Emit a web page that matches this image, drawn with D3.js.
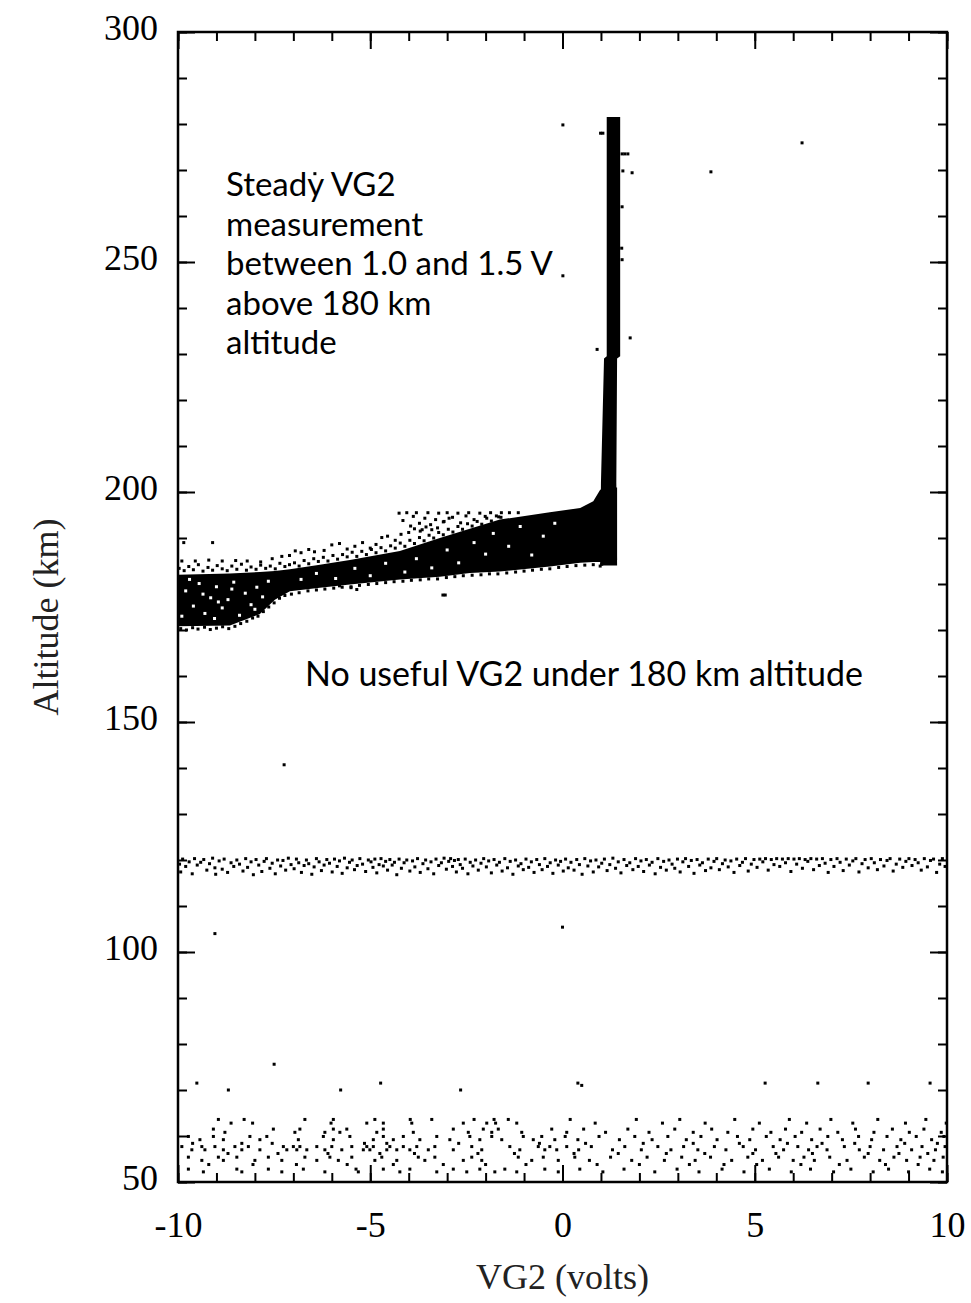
<!DOCTYPE html>
<html>
<head>
<meta charset="utf-8">
<script src="https://cdn.jsdelivr.net/npm/d3@7"></script>
<style>
  body { margin: 0; background: #fff; }
  svg { display: block; }
</style>
</head>
<body>
<svg id="chart" width="971" height="1303"></svg>
<script>
// ---- axis ticks ----
const xMajorTicks = [-10, -5, 0, 5, 10];
const xMinorTicks = d3.range(-10, 10.01, 1);
const yMajorTicks = [50, 100, 150, 200, 250, 300];
const yMinorTicks = d3.range(50, 300.01, 10);

// ---- dense core of the 170-200 km cluster (volts, lower / upper altitude) ----
const coreV  = [-10, -8.65, -7.87, -7.48, -7.09, -6.31, -5.53, -4.23, -3.19, -2.41, -1.63, -0.33, 0.46, 0.8, 0.98, 1.2, 1.42];
const coreLo = [170.8, 171.0, 173.5, 176.6, 178.4, 179.2, 179.9, 181.0, 181.6, 182.4, 182.7, 183.8, 184.6, 184.8, 184.8, 184.8, 185.2];
const coreHi = [182.0, 182.3, 182.6, 182.8, 183.2, 184.2, 185.2, 187.2, 190.0, 192.0, 194.0, 195.6, 196.5, 198.0, 200.5, 201, 201];

// ---- steady column above 185 km (altitude, left / right volts) ----
const towerAlt = [184, 202, 229, 229.5, 281.5];
const towerL   = [0.98, 1.0, 1.08, 1.15, 1.15];
const towerR   = [1.42, 1.40, 1.42, 1.50, 1.50];

// ---- samples on the fringes of the cluster [volts, km] ----
const clusterUpper = [
  [-9.97,183.4],[-9.84,182.9],[-9.72,183.8],[-9.60,183.1],[-9.47,184.2],[-9.35,182.8],[-9.22,183.6],[-9.10,183.0],
  [-8.98,184.0],[-8.85,183.3],[-8.72,182.9],[-8.60,183.9],[-8.47,183.2],[-8.35,184.3],[-8.22,183.0],[-8.10,183.7],
  [-7.97,183.2],[-7.85,184.1],[-7.72,183.4],[-7.60,183.9],[-7.47,183.3],[-7.35,184.5],[-7.22,183.8],[-7.10,184.2],
  [-6.97,184.6],[-6.85,183.9],[-6.72,185.1],[-6.60,184.4],[-6.47,185.5],[-6.35,184.9],[-6.22,185.8],[-6.10,185.0],
  [-5.97,186.2],[-5.85,185.4],[-5.72,186.4],[-5.60,185.9],[-5.47,186.9],[-5.35,186.0],[-5.22,187.1],[-5.10,186.4],
  [-4.97,187.5],[-4.85,186.8],[-4.72,187.9],[-4.60,187.2],[-4.47,188.3],[-4.35,187.8],
  [-4.22,188.9],[-4.10,188.2],[-3.97,189.5],[-3.85,188.8],[-3.72,190.1],[-3.60,189.4],[-3.47,190.6],[-3.35,190.0],
  [-3.22,191.2],[-3.10,190.7],[-2.97,191.9],[-2.85,191.3],[-2.72,192.5],[-2.60,191.9],[-2.47,193.1],[-2.35,192.6],
  [-2.22,193.6],[-2.10,193.0],[-1.97,194.3],[-1.85,193.7],[-1.72,194.8],[-1.60,194.5]
];
const clusterLower = [
  [-9.93,170.3],[-9.78,170.0],[-9.62,170.5],[-9.48,170.2],[-9.31,170.6],[-9.16,170.1],[-9.00,170.4],[-8.84,170.7],
  [-8.68,170.3],[-8.52,170.8],[-8.37,171.4],[-8.21,171.9],[-8.06,172.6],[-7.92,173.0],[-7.78,174.0],[-7.64,175.0],
  [-7.50,175.9],[-7.36,176.9],[-7.22,177.5],[-7.05,177.8],[-6.85,178.1],[-6.62,178.5],[-6.40,178.7],[-6.18,178.9],
  [-5.95,179.1],[-5.73,179.3],[-5.50,179.4],[-5.28,179.7],[-5.05,179.9],[-4.83,180.1],[-4.60,180.3],[-4.38,180.5],
  [-4.15,180.6],[-3.93,180.8],[-3.70,180.9],[-3.48,181.1],[-3.25,181.1],[-3.02,181.4],[-2.80,181.6],[-2.58,181.8],
  [-2.35,181.9],[-2.12,182.0],[-1.90,182.2],[-1.68,182.2],[-1.45,182.4],[-1.22,182.6],[-1.00,182.8],[-0.78,183.0],
  [-0.55,183.2],[-0.33,183.3],[-0.10,183.6],[0.12,183.8],[0.35,184.0],[0.58,184.1],[0.80,184.2],[0.98,183.9],[1.02,184.3]
];
const clusterSparse = [
  [-9.85,189],[-9.10,189],[-9.90,185],[-9.55,185],[-9.20,185.2],[-8.85,185],[-8.50,185.1],[-8.20,185],
  [-7.85,184.8],[-7.55,185.5],[-7.30,186],[-7.10,186.2],[-6.95,187.2],[-6.80,186.8],[-6.60,187.5],
  [-6.45,187.0],[-6.20,187.3],[-6.00,188.5],[-5.80,188.8],[-5.60,187.6],[-5.40,188.2],[-5.20,189.0],
  [-5.00,187.8],[-4.85,188.6],[-4.70,190.1],[-4.55,190.4],[-4.35,189.5],[-4.20,190.8],[-4.00,191.2],
  [-3.85,192.0],[-3.70,191.5],[-3.55,192.4],[-3.40,191.8],[-3.25,192.2],[-3.10,193.5],[-2.95,194.3],
  [-4.25,195.4],[-4.15,193.8],[-4.05,195.5],[-3.95,192.6],[-3.88,194.7],[-3.80,195.5],[-3.72,193.2],
  [-3.65,191.8],[-3.58,194.3],[-3.50,195.5],[-3.43,192.9],[-3.30,194.0],[-3.22,195.4],
  [-3.08,193.6],[-3.00,195.5],[-2.86,194.5],[-2.72,195.4],
  [-2.65,193.3],[-2.51,194.8],[-2.44,195.5],[-2.30,194.0],
  [-2.15,195.4],[-2.01,194.7],[-1.87,195.5],[-1.66,194.6],[-1.59,195.5],[-1.38,195.5],[-1.15,195.5],
  [-6.20,180.6],[-6.00,180.2],[-5.80,179.6],[-5.50,179.2],[-5.35,178.8],[-3.11,177.6],[-3.05,177.6]
];
// gaps between samples inside the dense core
const clusterGaps = [
  [-9.8,178.5],[-9.6,175.2],[-9.45,180.1],[-9.3,173.6],[-9.15,177.0],[-9.0,179.4],[-8.85,174.8],[-8.7,176.6],
  [-8.55,180.4],[-8.4,173.2],[-8.25,178.0],[-8.1,175.5],[-7.95,179.3],[-7.8,177.2],[-7.65,180.6],[-9.9,173.0],
  [-9.7,181.0],[-9.05,172.5],[-8.6,178.9],[-8.0,174.5],[-9.35,177.8],[-8.95,176.1],
  [-6.8,181.0],[-6.4,182.3],[-5.9,181.2],[-5.4,183.4],[-5.0,181.8],[-4.6,184.5],[-4.1,182.6],[-3.8,185.5],
  [-3.4,183.5],[-3.0,187.4],[-2.7,184.6],[-2.3,189.0],[-2.0,186.5],[-1.8,191.0],[-1.4,188.2],[-1.1,192.5],
  [-0.8,186.3],[-0.5,190.4],[-0.2,193.2]
];

// ---- isolated samples and bumps along the column [volts, km] ----
const isolated = [
  [0.01,279.8],[0.01,247.0],[0.90,231.0],[1.76,233.5],[1.57,269.8],[1.81,269.4],[3.86,269.6],[6.23,275.9],
  [0.99,278.0],[1.05,278.0],[1.55,273.5],[1.62,273.5],[1.70,273.5],[1.55,262.0],[1.54,253.0],[1.55,250.5],
  [-6.44,269.2],[-7.24,140.7],[-9.04,104.0],[0.00,105.4],
  [-9.51,71.5],[-8.69,70.0],[-7.50,75.6],[-5.77,70.0],[-4.73,71.5],[-2.65,70.0],[0.40,71.5],[0.50,71.0],
  [5.27,71.5],[6.64,71.5],[7.95,71.5],[9.56,71.5]
];

// ---- samples of the ~118 km layer [volts, km] ----
const layer118 = [
  [-9.96,119.1],[-9.93,117.4],[-9.88,120.2],[-9.80,118.6],[-9.71,119.6],[-9.63,117.0],[-9.57,120.3],[-9.50,118.9],
  [-9.41,119.5],[-9.33,120.1],[-9.25,117.8],[-9.18,119.2],[-9.10,120.4],[-9.04,118.3],[-9.02,116.9],
  [-8.93,119.8],[-8.85,118.0],[-8.80,120.2],[-8.71,117.3],[-8.62,119.4],[-8.55,118.6],[-8.47,120.0],[-8.40,119.1],
  [-8.31,117.6],[-8.24,120.3],[-8.19,118.4],[-8.10,119.6],[-8.04,116.8],
  [-7.97,120.1],[-7.90,118.9],[-7.82,117.5],[-7.76,119.7],[-7.70,120.3],[-7.61,118.2],[-7.55,119.3],[-7.47,117.0],
  [-7.41,120.0],[-7.33,118.7],[-7.27,119.9],[-7.20,117.8],[-7.13,120.4],[-7.06,119.0],
  [-6.98,118.1],[-6.92,120.2],[-6.86,119.4],[-6.79,117.3],[-6.72,118.8],[-6.66,120.0],[-6.60,119.2],[-6.52,116.9],
  [-6.46,118.5],[-6.40,120.3],[-6.33,119.6],[-6.27,117.7],[-6.20,118.9],[-6.13,120.1],[-6.06,119.3],
  [-5.99,117.4],[-5.93,120.2],[-5.86,118.6],[-5.80,119.8],[-5.73,117.1],[-5.67,120.4],[-5.60,118.3],[-5.54,119.5],
  [-5.47,120.0],[-5.41,117.9],[-5.34,118.8],[-5.27,120.3],[-5.20,119.1],[-5.12,117.5],[-5.05,120.0],
  [-4.98,119.6],[-4.93,118.4],[-4.88,120.2],[-4.83,117.2],[-4.77,119.0],[-4.72,120.3],[-4.66,118.7],[-4.60,119.7],
  [-4.55,117.8],[-4.49,120.1],[-4.43,118.9],[-4.37,119.5],[-4.31,116.8],[-4.25,120.2],[-4.19,118.2],[-4.12,119.4],[-4.05,120.0],
  [-3.97,117.6],[-3.90,119.8],[-3.84,118.5],[-3.77,120.3],[-3.70,117.3],[-3.63,119.2],[-3.56,120.0],[-3.50,118.1],
  [-3.42,119.6],[-3.35,117.0],[-3.29,120.2],[-3.22,118.8],[-3.15,119.4],[-3.08,120.4],[-3.02,118.0],
  [-2.96,119.7],[-2.91,120.3],[-2.86,118.6],[-2.81,119.9],[-2.76,117.4],[-2.71,120.1],[-2.66,119.0],[-2.60,118.2],
  [-2.53,120.2],[-2.46,117.0],[-2.40,119.5],[-2.33,118.7],[-2.26,120.0],[-2.19,117.8],[-2.12,119.3],[-2.05,120.3],
  [-1.98,118.5],[-1.92,119.8],[-1.85,117.2],[-1.78,120.1],[-1.71,118.9],[-1.64,119.5],[-1.57,117.6],[-1.50,120.3],
  [-1.43,118.3],[-1.36,119.7],[-1.29,116.9],[-1.22,120.0],[-1.15,118.7],[-1.08,119.2],[-1.02,117.9],
  [-0.95,120.2],[-0.88,118.4],[-0.81,119.6],[-0.74,117.3],[-0.67,120.1],[-0.60,119.0],[-0.53,117.9],[-0.46,120.3],
  [-0.39,118.6],[-0.32,119.4],[-0.25,117.1],[-0.18,120.0],[-0.11,118.9],[-0.05,119.7],[0.02,117.6],
  [0.08,120.2],[0.15,118.3],[0.22,119.5],[0.30,117.8],[0.37,120.1],[0.44,119.0],[0.51,116.9],[0.58,120.3],
  [0.66,118.7],[0.73,119.8],[0.80,117.4],[0.87,120.0],[0.94,118.5],
  [1.02,119.3],[1.09,120.2],[1.16,117.7],[1.23,119.0],[1.31,120.4],[1.38,118.2],[1.45,119.6],[1.52,117.2],
  [1.60,120.1],[1.67,118.8],[1.75,119.4],[1.83,117.9],[1.90,120.3],[1.97,118.6],
  [2.04,119.8],[2.11,117.5],[2.18,120.1],[2.26,118.9],[2.33,119.5],[2.41,117.0],[2.48,120.3],[2.55,118.4],
  [2.63,119.7],[2.70,117.8],[2.77,120.0],[2.85,119.1],[2.92,118.2],[2.99,120.2],
  [3.06,117.4],[3.13,119.6],[3.20,120.3],[3.28,118.6],[3.35,119.9],[3.42,117.1],[3.50,120.1],[3.57,118.9],
  [3.64,119.4],[3.72,117.7],[3.79,120.2],[3.86,118.3],[3.94,119.7],
  [4.01,120.3],[4.08,117.9],[4.16,119.2],[4.23,120.0],[4.31,118.5],[4.38,119.8],[4.46,117.3],[4.53,120.2],
  [4.61,118.8],[4.68,119.5],[4.76,120.3],[4.83,117.6],[4.91,119.1],[4.98,120.1],
  [5.06,118.4],[5.13,120.2],[5.21,119.6],[5.28,120.3],[5.35,117.8],[5.43,120.1],[5.50,119.0],[5.57,120.3],
  [5.65,118.6],[5.72,120.2],[5.80,119.4],[5.87,120.3],[5.94,117.5],
  [6.02,120.2],[6.09,119.1],[6.16,120.3],[6.24,118.2],[6.31,120.1],[6.38,119.7],[6.46,120.3],[6.53,117.9],
  [6.61,120.2],[6.68,118.8],[6.76,120.3],[6.83,119.3],[6.91,117.3],[6.98,120.1],
  [7.06,118.6],[7.14,120.3],[7.22,119.5],[7.30,117.7],[7.38,120.2],[7.46,118.9],[7.55,119.8],[7.63,120.3],
  [7.71,117.4],[7.79,119.2],[7.87,120.1],[7.95,118.3],
  [8.03,120.3],[8.11,119.4],[8.19,117.9],[8.27,120.1],[8.36,118.7],[8.44,119.9],[8.52,120.3],[8.60,117.6],
  [8.68,119.1],[8.77,120.2],[8.85,118.4],[8.93,119.7],
  [9.01,120.3],[9.09,118.8],[9.17,120.1],[9.25,119.4],[9.33,117.8],[9.41,120.3],[9.49,118.5],[9.57,119.9],
  [9.65,120.2],[9.73,117.3],[9.81,119.1],[9.88,120.3],[9.95,118.6]
];

// ---- samples of the 50-64 km layer, one list of volts per altitude level ----
const lowLevels = [63.6, 62.8, 61.5, 60.8, 59.9, 59.2, 58.4, 57.7, 57.0, 56.2, 55.4, 54.7, 53.8, 52.8, 52.2];
const low636 = [-8.95,-8.28,-6.70,-5.96,-4.88,-3.96,-3.40,-2.30,-1.78,-1.41,0.20,1.92,3.05,4.48,5.90,6.98,8.20,9.45];
const low628 = [-8.62,-8.06,-6.02,-5.09,-4.66,-3.92,-2.58,-1.97,-1.74,-1.19,0.85,2.60,3.71,5.12,6.35,7.55,8.92,9.98];
const low615 = [-9.08,-7.52,-6.83,-5.96,-5.61,-4.66,-2.84,-2.06,-1.67,-0.28,0.55,1.70,2.92,3.88,4.95,5.80,6.70,7.62,8.58,9.40];
const low608 = [-8.78,-6.96,-6.18,-5.79,-4.83,-3.88,-2.45,-1.84,-1.06,0.11,1.12,2.25,3.40,4.30,5.42,6.22,7.16,8.10,9.02,9.85];
const low599 = [-9.73,-9.08,-8.13,-7.69,-6.22,-5.53,-4.66,-4.14,-3.27,-2.41,-1.84,-1.02,-0.54,0.07,0.95,1.88,2.74,3.60,4.55,
  5.30,6.05,6.90,7.70,8.44,9.20,9.92];
const low592 = [-9.43,-8.82,-7.87,-6.87,-5.96,-4.92,-4.40,-3.71,-2.93,-2.15,-1.58,-0.76,-0.20,0.40,1.48,2.33,3.22,4.02,4.87,
  5.66,6.48,7.28,8.04,8.80,9.60];
const low584 = [-9.62,-8.34,-7.55,-5.15,-4.57,-2.70,-0.60,0.60,2.10,3.40,4.60,5.85,6.75,7.60,8.90,9.75];
const low577 = [-9.90,-9.38,-9.04,-8.52,-8.17,-7.26,-7.00,-6.83,-6.39,-6.00,-5.48,-5.09,-4.92,-4.49,-4.14,-3.79,-3.32,-2.36,
  -1.37,-0.63,-0.33,0.11,0.75,1.62,2.48,3.15,3.95,4.70,5.48,6.12,6.62,7.33,8.00,8.70,9.35,9.95];
const low570 = [-9.64,-9.30,-8.82,-8.34,-7.87,-7.17,-6.91,-6.65,-6.18,-5.74,-5.18,-5.01,-4.57,-4.31,-3.97,-3.49,-2.84,-2.10,
  -1.11,-0.46,-0.15,0.42,1.30,2.05,2.82,3.52,4.25,5.02,5.75,6.40,6.88,7.72,8.35,9.08,9.70];
const low562 = [-8.70,-7.40,-6.10,-4.75,-3.85,-2.20,-1.25,0.30,1.45,2.70,3.70,4.95,5.55,6.50,7.95,8.75,9.50];
const low554 = [-9.73,-8.95,-8.47,-7.65,-6.70,-6.05,-5.48,-4.70,-3.75,-3.32,-2.36,-1.15,-0.50,0.32,1.25,2.20,3.10,3.85,4.82,
  5.62,6.28,6.95,7.85,8.62,9.30,9.90];
const low547 = [-9.38,-8.82,-8.00,-7.30,-6.39,-5.83,-4.88,-4.31,-3.58,-2.58,-2.10,-0.80,-0.11,0.70,1.80,2.65,3.45,4.40,5.20,
  6.00,6.55,7.40,8.25,8.95,9.66];
const low538 = [-9.20,-8.05,-6.92,-5.60,-4.40,-3.10,-2.00,-0.95,0.90,2.00,3.30,4.20,5.05,6.20,7.20,8.40,9.25];
const low528 = [-9.73,-8.47,-7.65,-6.74,-5.37,-4.66,-3.97,-2.84,-2.15,-1.50,-0.46,0.45,1.60,2.98,4.15,5.38,6.45,7.50,8.48,9.55];
const low522 = [-9.34,-8.34,-7.30,-6.18,-5.31,-4.23,-3.27,-2.49,-1.76,-1.19,-0.11,1.05,2.40,3.55,4.72,5.95,7.05,8.08,9.00,9.88];
const lowRows = [low636, low628, low615, low608, low599, low592, low584, low577, low570, low562, low554, low547, low538, low528, low522];

// ---- layout and scales ----
const svg = d3.select("#chart");
const plot = { left: 178, top: 32, right: 947, bottom: 1182 };
const x = d3.scaleLinear().domain([-10, 10]).range([plot.left, plot.right]);
const y = d3.scaleLinear().domain([50, 300]).range([plot.bottom, plot.top]);

const serif = "'Liberation Serif', 'Times New Roman', serif";
const sans = "Lato, 'Open Sans', sans-serif";
const dot = 3;

function drawDots(points, color) {
  svg.append("g")
    .selectAll("rect")
    .data(points)
    .join("rect")
    .attr("x", d => x(d[0]) - dot / 2)
    .attr("y", d => y(d[1]) - dot / 2)
    .attr("width", dot)
    .attr("height", dot)
    .attr("fill", color);
}

// ---- dense regions ----
const coreData = coreV.map((v, i) => ({ v, lo: coreLo[i], hi: coreHi[i] }));
svg.append("path")
  .datum(coreData)
  .attr("fill", "#000")
  .attr("d", d3.area().x(d => x(d.v)).y0(d => y(d.lo)).y1(d => y(d.hi)));

const towerData = towerAlt.map((a, i) => ({ a, l: towerL[i], r: towerR[i] }));
svg.append("path")
  .datum(towerData)
  .attr("fill", "#000")
  .attr("d", d3.area().y(d => y(d.a)).x0(d => x(d.l)).x1(d => x(d.r)));

drawDots(clusterGaps, "#fff");

// ---- individual samples ----
const lowPoints = [];
lowRows.forEach((row, i) => row.forEach(v => lowPoints.push([v, lowLevels[i]])));
drawDots([].concat(clusterUpper, clusterLower, clusterSparse, isolated, layer118, lowPoints), "#000");

// ---- axes: inward ticks on all four sides ----
function styleAxis(g) {
  g.select(".domain").remove();
  g.selectAll(".tick line").attr("stroke", "#000").attr("stroke-width", 2);
}
const minorLen = 9, majorLen = 17;

svg.append("g").attr("transform", `translate(0,${plot.bottom})`)
  .call(d3.axisBottom(x).tickValues(xMinorTicks).tickSize(-minorLen).tickFormat(""))
  .call(styleAxis);
svg.append("g").attr("transform", `translate(0,${plot.top})`)
  .call(d3.axisTop(x).tickValues(xMinorTicks).tickSize(-minorLen).tickFormat(""))
  .call(styleAxis);
svg.append("g").attr("transform", `translate(0,${plot.bottom})`)
  .call(d3.axisBottom(x).tickValues(xMajorTicks).tickSize(-majorLen).tickFormat(d3.format("d")))
  .call(styleAxis)
  .call(g => g.selectAll(".tick text")
    .attr("y", 55).attr("dy", null)
    .attr("font-family", serif).attr("font-size", 36).attr("fill", "#000")
    .text(d => d < 0 ? "-" + Math.abs(d) : d));
svg.append("g").attr("transform", `translate(0,${plot.top})`)
  .call(d3.axisTop(x).tickValues(xMajorTicks).tickSize(-majorLen).tickFormat(""))
  .call(styleAxis);

svg.append("g").attr("transform", `translate(${plot.left},0)`)
  .call(d3.axisLeft(y).tickValues(yMinorTicks).tickSize(-minorLen).tickFormat(""))
  .call(styleAxis);
svg.append("g").attr("transform", `translate(${plot.right},0)`)
  .call(d3.axisRight(y).tickValues(yMinorTicks).tickSize(-minorLen).tickFormat(""))
  .call(styleAxis);
svg.append("g").attr("transform", `translate(${plot.left},0)`)
  .call(d3.axisLeft(y).tickValues(yMajorTicks).tickSize(-majorLen).tickFormat(d3.format("d")))
  .call(styleAxis)
  .call(g => g.selectAll(".tick text")
    .attr("x", -20).attr("dy", "0.2em")
    .attr("font-family", serif).attr("font-size", 36).attr("fill", "#000"));
svg.append("g").attr("transform", `translate(${plot.right},0)`)
  .call(d3.axisRight(y).tickValues(yMajorTicks).tickSize(-majorLen).tickFormat(""))
  .call(styleAxis);

// ---- frame ----
svg.append("rect")
  .attr("x", plot.left).attr("y", plot.top)
  .attr("width", plot.right - plot.left).attr("height", plot.bottom - plot.top)
  .attr("fill", "none").attr("stroke", "#000").attr("stroke-width", 2.5);

// ---- axis titles ----
svg.append("text")
  .attr("x", x(0)).attr("y", 1289)
  .attr("text-anchor", "middle")
  .attr("font-family", serif).attr("font-size", 36).attr("fill", "#222")
  .text("VG2 (volts)");
svg.append("text")
  .attr("transform", `translate(58,${(plot.top + plot.bottom) / 2 + 10}) rotate(-90)`)
  .attr("text-anchor", "middle")
  .attr("font-family", serif).attr("font-size", 36).attr("fill", "#222")
  .text("Altitude (km)");

// ---- annotations ----
const noteLines = ["Steady VG2", "measurement", "between 1.0 and 1.5 V", "above 180 km", "altitude"];
svg.append("g")
  .selectAll("text")
  .data(noteLines)
  .join("text")
  .attr("x", 226)
  .attr("y", (d, i) => 196 + i * 39.5)
  .attr("font-family", sans).attr("font-size", 33).attr("fill", "#000")
  .text(d => d);

svg.append("text")
  .attr("x", 305).attr("y", 686)
  .attr("font-family", sans).attr("font-size", 34).attr("fill", "#000")
  .text("No useful VG2 under 180 km altitude");
</script>
</body>
</html>
